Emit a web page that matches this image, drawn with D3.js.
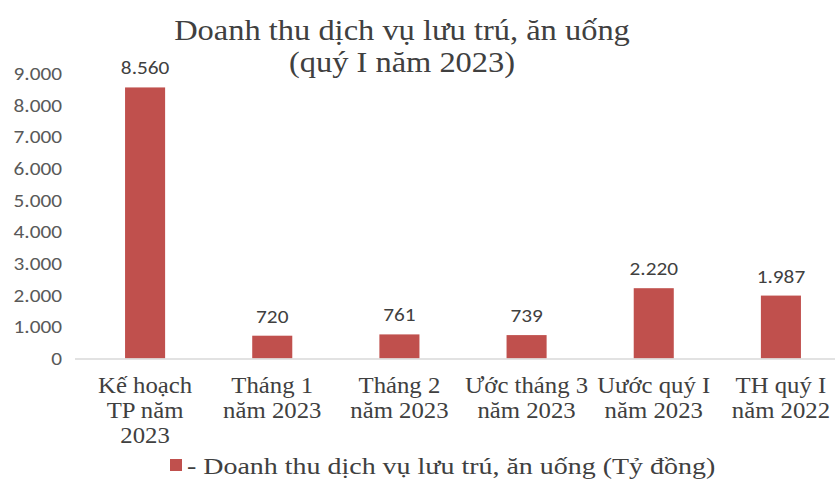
<!DOCTYPE html>
<html><head><meta charset="utf-8">
<script src="https://cdn.jsdelivr.net/npm/d3@7/dist/d3.min.js"></script>
<style>body{margin:0;background:#fff}svg{display:block}</style>
</head><body>
<svg id="c" width="835" height="484"></svg>
<script>
const categories = [["Kế hoạch","TP năm","2023"],["Tháng 1","năm 2023"],["Tháng 2","năm 2023"],["Ước tháng 3","năm 2023"],["Uước quý I","năm 2023"],["TH quý I","năm 2022"]];
const values = [8560, 720, 761, 739, 2220, 1987];
const yTicks = [0,1000,2000,3000,4000,5000,6000,7000,8000,9000];
const titleLines = ["Doanh thu dịch vụ lưu trú, ăn uống","(quý I năm 2023)"];
const legendLabel = "- Doanh thu dịch vụ lưu trú, ăn uống (Tỷ đồng)";

const svg = d3.select("#c");
const SANS = "Carlito, 'Liberation Sans', Arial, sans-serif";
const SERIF = "'Liberation Serif', 'Times New Roman', serif";
const fmt = v => d3.format(",")(v).replace(/,/g,".");
const x = d3.scaleBand().domain(d3.range(values.length)).range([81.5,844.5]).paddingInner(0.685).paddingOuter(0.3425);
const y = d3.scaleLinear().domain([0,9000]).range([358.5,73.5]);
const cx = i => x(i) + x.bandwidth()/2;

// y tick labels
svg.append("g").selectAll("text").data(yTicks).join("text")
  .attr("transform",d=>`translate(62,${y(d)}) scale(1.12,1)`).attr("dy","0.35em").attr("text-anchor","end")
  .attr("font-family",SANS).attr("font-size",19).attr("fill","#595959")
  .text(fmt);

// bars
svg.append("g").selectAll("rect").data(values).join("rect")
  .attr("x",(d,i)=>x(i)).attr("width",x.bandwidth())
  .attr("y",d=>y(d)).attr("height",d=>y(0)-y(d)).attr("fill","#C0504D");

// baseline
svg.append("line").attr("x1",75).attr("x2",835).attr("y1",y(0)+0.5).attr("y2",y(0)+0.5)
  .attr("stroke","#d9d9d9").attr("stroke-width",1.5);

// value labels
svg.append("g").selectAll("text").data(values).join("text")
  .attr("transform",(d,i)=>`translate(${cx(i)},${y(d)-13}) scale(1.12,1)`).attr("text-anchor","middle")
  .attr("font-family",SANS).attr("font-size",19).attr("fill","#404040")
  .text(fmt);

// x labels
const xl = svg.append("g").selectAll("text").data(categories).join("text")
  .attr("transform",(d,i)=>`translate(${cx(i)},393) scale(1.1,1)`).attr("text-anchor","middle")
  .attr("font-family",SERIF).attr("font-size",22.5).attr("fill","#404040");
xl.selectAll("tspan").data(d=>d).join("tspan")
  .attr("x",0).attr("dy",(d,j)=>j===0?0:25).text(d=>d);

// title
svg.append("g").selectAll("text").data(titleLines).join("text")
  .attr("transform",(d,i)=>`translate(402,${40+i*32}) scale(1.12,1)`).attr("text-anchor","middle")
  .attr("font-family",SERIF).attr("font-size",29).attr("fill","#404040")
  .text(d=>d);

// legend
svg.append("rect").attr("x",170).attr("y",459).attr("width",12).attr("height",12).attr("fill","#C0504D");
svg.append("text").attr("transform","translate(187,474) scale(1.19,1)")
  .attr("font-family",SERIF).attr("font-size",23.5).attr("fill","#404040")
  .text(legendLabel);
</script>
</body></html>
